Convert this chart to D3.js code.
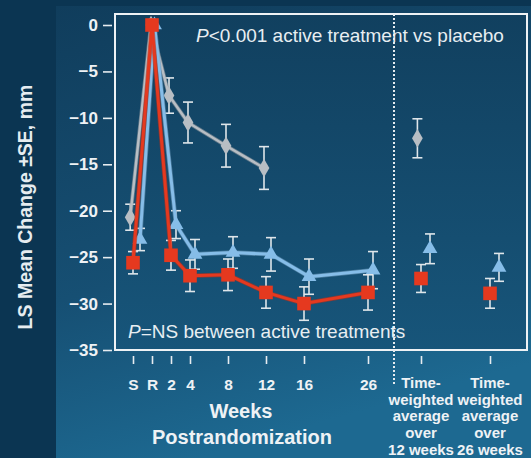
<!DOCTYPE html>
<html><head><meta charset="utf-8">
<script src="https://cdn.jsdelivr.net/npm/d3@7"></script>
<style>html,body{margin:0;padding:0;background:#0b3552;}svg{display:block;}</style>
</head><body>
<script>
// ---- data ----
const weekLabels = ["S","R","2","4","8","12","16","26"];
const weekValues = [-2,0,2,4,8,12,16,26];
const placebo    = [-20.7, 0, -7.6, -10.5, -13.0, -15.4, null, null];
const placeboSE  = [1.4, 0, 1.9, 2.2, 2.3, 2.3, null, null];
const activeBlue   = [-23.1, 0, -21.5, -24.7, -24.5, -24.7, -27.1, -26.4];
const activeBlueSE = [1.2, 0, 1.5, 1.6, 1.7, 1.8, 1.9, 2.0];
const activeRed    = [-25.6, 0, -24.8, -27.0, -26.9, -28.8, -30.0, -28.8];
const activeRedSE  = [1.2, 0, 1.6, 1.7, 1.7, 1.7, 1.8, 1.9];
const twLabels = ["12 weeks","26 weeks"];
const placeboTW    = [-12.2, null];
const placeboTWSE  = [2.1, null];
const activeBlueTW   = [-24.1, -26.1];
const activeBlueTWSE = [1.6, 1.5];
const activeRedTW    = [-27.3, -28.9];
const activeRedTWSE  = [1.5, 1.6];
const yTicks = [0,-5,-10,-15,-20,-25,-30,-35];

const W = 531, H = 458;
const FONT = "'Liberation Sans', Arial, sans-serif";
const svg = d3.select("body").append("svg").attr("width", W).attr("height", H)
  .style("font-family", FONT);
const defs = svg.append("defs");
const g1 = defs.append("linearGradient").attr("id","bg").attr("x1",0).attr("y1",0).attr("x2",0.3).attr("y2",1);
g1.append("stop").attr("offset","0%").attr("stop-color","#103d5c");
g1.append("stop").attr("offset","60%").attr("stop-color","#164f73");
g1.append("stop").attr("offset","100%").attr("stop-color","#1d6991");
const g2 = defs.append("linearGradient").attr("id","plotbg").attr("x1",0).attr("y1",0).attr("x2",0).attr("y2",1);
g2.append("stop").attr("offset","0%").attr("stop-color","#11405f");
g2.append("stop").attr("offset","100%").attr("stop-color","#17557a");

svg.append("rect").attr("width",W).attr("height",H).attr("fill","#0b3552");
svg.append("rect").attr("x",56).attr("y",6).attr("width",W-56).attr("height",H-6).attr("fill","url(#bg)");

// ---- scales ----
const frame = {l:115, t:14, r:527, b:350};
const y = d3.scaleLinear().domain([-35, 0]).range([350, 25]);
const xWeek = d3.scaleLinear().domain([-2, 16, 26]).range([133, 304, 368]);
const xTW = d3.scalePoint().domain(twLabels).range([421, 490]);

svg.append("rect").attr("x",frame.l).attr("y",frame.t).attr("width",frame.r-frame.l).attr("height",frame.b-frame.t)
  .attr("fill","url(#plotbg)");

// ---- axes ----
const yAxis = d3.axisLeft(y).tickValues(yTicks).tickSize(9).tickPadding(5)
  .tickFormat(d => d === 0 ? "0" : "\u2212" + Math.abs(d));
const ya = svg.append("g").attr("transform", `translate(${frame.l - 3},0)`).call(yAxis);
ya.select(".domain").remove();
ya.selectAll("line").attr("stroke","#e6ecf0").attr("stroke-width",1.6);
ya.selectAll("text").attr("fill","#eef2f5").attr("font-size",17).attr("font-weight","bold")
  .attr("font-family",FONT);

const xAxis = d3.axisBottom(xWeek).tickValues(weekValues).tickSize(8).tickPadding(15)
  .tickFormat((d,i) => weekLabels[i]);
const xa = svg.append("g").attr("transform", `translate(0,${frame.b + 6})`).call(xAxis);
xa.select(".domain").remove();
xa.selectAll("line").attr("stroke","#e6ecf0").attr("stroke-width",1.6);
xa.selectAll("text").attr("fill","#eef2f5").attr("font-size",15.5).attr("font-weight","bold")
  .attr("font-family",FONT);

const xa2 = svg.append("g").attr("transform", `translate(0,${frame.b + 6})`)
  .call(d3.axisBottom(xTW).tickSize(8).tickFormat(""));
xa2.select(".domain").remove();
xa2.selectAll("line").attr("stroke","#e6ecf0").attr("stroke-width",1.6);

// TW labels
const twLines = d => ["Time-","weighted","average","over", d];
twLabels.forEach(lab => {
  const t = svg.append("text").attr("x", xTW(lab)).attr("y", 388)
    .attr("text-anchor","middle").attr("fill","#eef2f5").attr("font-size",15).attr("font-weight","bold");
  twLines(lab).forEach((s,i) => t.append("tspan").attr("x", xTW(lab)).attr("dy", i ? 16.7 : 0).text(s));
});

// axis titles
svg.append("text").attr("x",241).attr("y",418).attr("text-anchor","middle").attr("fill","#eef2f5")
  .attr("font-size",20).attr("font-weight","bold").text("Weeks");
svg.append("text").attr("x",242).attr("y",444).attr("text-anchor","middle").attr("fill","#eef2f5")
  .attr("font-size",20).attr("font-weight","bold").text("Postrandomization");
svg.append("text").attr("transform","translate(32,207) rotate(-90)").attr("text-anchor","middle")
  .attr("fill","#e6ecf0").attr("font-size",19.5).attr("font-weight","bold").text("LS Mean Change \u00b1SE, mm");

// frame
svg.append("rect").attr("x",frame.l).attr("y",frame.t).attr("width",frame.r-frame.l).attr("height",frame.b-frame.t)
  .attr("fill","none").attr("stroke","#eef2f5").attr("stroke-width",2);

// dotted divider
svg.append("line").attr("x1",394).attr("x2",394).attr("y1",frame.t).attr("y2",385)
  .attr("stroke","#e6ecf0").attr("stroke-width",2).attr("stroke-dasharray","2,2");

// annotations
const ann1 = svg.append("text").attr("x",196).attr("y",42).attr("fill","#e8eef2").attr("font-size",19);
ann1.append("tspan").attr("font-style","italic").text("P");
ann1.append("tspan").text("<0.001 active treatment vs placebo");
const ann2 = svg.append("text").attr("x",128).attr("y",338).attr("fill","#e8eef2").attr("font-size",19);
ann2.append("tspan").attr("font-style","italic").text("P");
ann2.append("tspan").text("=NS between active treatments");

// ---- series ----
const series = [
  {name:"placebo", v:placebo, se:placeboSE, tw:placeboTW, twse:placeboTWSE, color:"#b8bec4", dodge:-2, shape:d3.symbolDiamond, size:100, lw:2.5},
  {name:"blue", v:activeBlue, se:activeBlueSE, tw:activeBlueTW, twse:activeBlueTWSE, color:"#86bde8", dodge:5, shape:d3.symbolTriangle, size:95, lw:3},
  {name:"red", v:activeRed, se:activeRedSE, tw:activeRedTW, twse:activeRedTWSE, color:"#e5391f", dodge:0, shape:d3.symbolSquare, size:185, lw:3}
];

const errColor = "#dfe6ea";
function errBar(g, cx, v, se) {
  if (v == null || !se) return;
  g.append("line").attr("x1",cx).attr("x2",cx).attr("y1",y(v+se)).attr("y2",y(v-se))
    .attr("stroke",errColor).attr("stroke-width",1.6);
  [v+se, v-se].forEach(e => g.append("line").attr("x1",cx-5).attr("x2",cx+5).attr("y1",y(e)).attr("y2",y(e))
    .attr("stroke",errColor).attr("stroke-width",1.6));
}

series.forEach(s => {
  const g = svg.append("g");
  const pts = weekValues.map((w,i) => ({x: xWeek(w) + (i===1 ? s.dodge*0.5 : (i===0 ? s.dodge*1.4 : s.dodge)), v: s.v[i], se: s.se[i]}))
    .filter(p => p.v != null);
  pts.forEach(p => errBar(g, p.x, p.v, p.se));
  const twPts = twLabels.map((l,i) => ({x: xTW(l) + s.dodge*1.8, v: s.tw[i], se: s.twse[i]})).filter(p => p.v != null);
  twPts.forEach(p => errBar(g, p.x, p.v, p.se));
  const line = d3.line().x(p => p.x).y(p => y(p.v));
  g.append("path").datum(pts).attr("d", line).attr("fill","none").attr("stroke", d3.color(s.color).darker(0.6))
    .attr("stroke-width", s.lw + 1.5).attr("stroke-linejoin","round").attr("opacity",0.6);
  g.append("path").datum(pts).attr("d", line).attr("fill","none").attr("stroke", s.color)
    .attr("stroke-width", s.lw).attr("stroke-linejoin","round");
  const sym = d3.symbol().type(s.shape).size(s.size);
  [...pts, ...twPts].forEach(p => {
    g.append("path").attr("d", sym()).attr("transform", `translate(${p.x},${y(p.v)})`)
      .attr("fill", s.color);
  });
});
</script>
</body></html>
